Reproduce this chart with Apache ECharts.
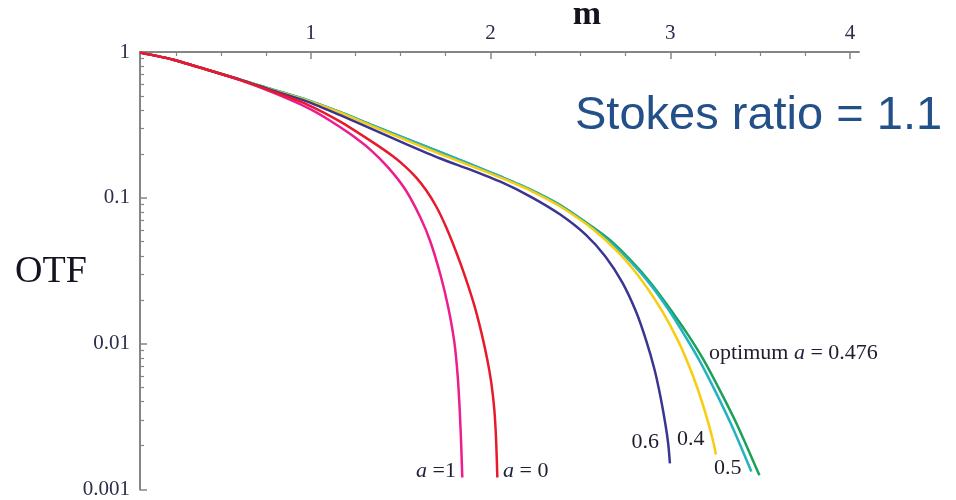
<!DOCTYPE html>
<html>
<head>
<meta charset="utf-8">
<script src="https://cdn.jsdelivr.net/npm/echarts@6/dist/echarts.min.js"></script>
<style>
  html, body { margin: 0; padding: 0; background: #fff; }
  #chart { width: 956px; height: 500px; }
</style>
</head>
<body>
<div id="chart"></div>
<script>
// spatial frequency m and OTF for each apodization a
const mA1 = [0.051, 0.235, 0.424, 0.608, 0.791, 0.981, 1.108, 1.220, 1.331, 1.431, 1.526, 1.610, 1.665, 1.721, 1.765, 1.799, 1.818, 1.829, 1.837, 1.843];
const otfA1 = [0.99, 0.886, 0.756, 0.641, 0.526, 0.415, 0.338, 0.2735, 0.214, 0.161, 0.114, 0.0733, 0.0502, 0.0298, 0.0177, 0.0102, 0.00588, 0.00344, 0.00201, 0.00121];

const mA0 = [0.051, 0.235, 0.424, 0.608, 0.791, 0.981, 1.164, 1.348, 1.459, 1.526, 1.587, 1.643, 1.698, 1.754, 1.810, 1.860, 1.910, 1.949, 1.982, 2.004, 2.021, 2.031, 2.038];
const otfA0 = [0.99, 0.886, 0.756, 0.641, 0.535, 0.436, 0.333, 0.239, 0.192, 0.1638, 0.1377, 0.1122, 0.0872, 0.0626, 0.0422, 0.0285, 0.0183, 0.01195, 0.0078, 0.00543, 0.00355, 0.00221, 0.00121];

const mA06 = [0.051, 0.235, 0.424, 0.608, 0.791, 0.981, 1.164, 1.348, 1.537, 1.721, 1.888, 2.055, 2.222, 2.388, 2.528, 2.639, 2.733, 2.811, 2.867, 2.912, 2.945, 2.973, 2.989, 2.998];
const otfA06 = [0.99, 0.886, 0.756, 0.646, 0.543, 0.457, 0.369, 0.294, 0.232, 0.186, 0.156, 0.129, 0.102, 0.0768, 0.0561, 0.0396, 0.0263, 0.0164, 0.0104, 0.00667, 0.00436, 0.0028, 0.00204, 0.00151];

const mA04 = [0.051, 0.235, 0.424, 0.608, 0.791, 0.981, 1.164, 1.348, 1.537, 1.721, 1.888, 2.055, 2.222, 2.388, 2.572, 2.722, 2.850, 2.956, 3.045, 3.112, 3.168, 3.212, 3.240, 3.254];
const otfA04 = [0.99, 0.886, 0.756, 0.646, 0.547, 0.464, 0.384, 0.308, 0.247, 0.1995, 0.1665, 0.1377, 0.1122, 0.0872, 0.0607, 0.0409, 0.0263, 0.01665, 0.01037, 0.00667, 0.00429, 0.00285, 0.00211, 0.00174];

const mA05 = [0.051, 0.235, 0.424, 0.608, 0.791, 0.981, 1.164, 1.348, 1.537, 1.721, 1.888, 2.055, 2.222, 2.388, 2.572, 2.667, 2.778, 2.889, 2.989, 3.084, 3.168, 3.262, 3.351, 3.451];
const otfA05 = [0.99, 0.886, 0.756, 0.646, 0.552, 0.468, 0.387, 0.313, 0.253, 0.206, 0.170, 0.140, 0.114, 0.0886, 0.0616, 0.0494, 0.0366, 0.0255, 0.0172, 0.0112, 0.00745, 0.00442, 0.00259, 0.00133];

const mOpt = [0.051, 0.235, 0.424, 0.608, 0.791, 0.981, 1.164, 1.348, 1.537, 1.721, 1.888, 2.055, 2.222, 2.388, 2.572, 2.667, 2.778, 2.889, 2.989, 3.090, 3.184, 3.279, 3.373, 3.496];
const otfOpt = [0.99, 0.886, 0.756, 0.646, 0.552, 0.468, 0.387, 0.313, 0.253, 0.206, 0.170, 0.140, 0.114, 0.0893, 0.0626, 0.051, 0.0375, 0.0263, 0.018, 0.01195, 0.0078, 0.00471, 0.00276, 0.00125];

const xMajorTicks = [1, 2, 3, 4];
const xMinorTicks = [0.25, 0.5, 0.75, 1.25, 1.5, 1.75, 2.25, 2.5, 2.75, 3.25, 3.5, 3.75];
const yMinorTicks = [0.002, 0.003, 0.004, 0.005, 0.006, 0.007, 0.008, 0.009,
                     0.02, 0.03, 0.04, 0.05, 0.06, 0.07, 0.08, 0.09,
                     0.2, 0.3, 0.4, 0.5, 0.6, 0.7, 0.8, 0.9];

const serif = '"Liberation Serif", "DejaVu Serif", serif';
const axisColor = '#858585';
const tickText = '#2c2c4c';

const zip = (xs, ys) => xs.map((x, i) => [x, ys[i]]);

function curve(name, color, xs, ys, z) {
    return {
        name: name,
        type: 'line',
        data: zip(xs, ys),
        showSymbol: false,
        smooth: 0.25,
        silent: true,
        z: z,
        lineStyle: { color: color, width: 2.5 },
        itemStyle: { color: color }
    };
}

function label(x, y, text, align) {
    return {
        type: 'text', x: x, y: y,
        style: {
            text: text, fill: '#1e1e2e', align: align || 'left', verticalAlign: 'middle',
            fontFamily: serif, fontSize: 22,
            rich: { i: { fontFamily: serif, fontSize: 22, fontStyle: 'italic', fill: '#1e1e3e' } }
        }
    };
}

const chart = echarts.init(document.getElementById('chart'));

chart.setOption({
    animation: false,
    grid: { left: 140, top: 52, right: 97, bottom: 9 },
    xAxis: [{
        type: 'value', position: 'top', min: 0.05, max: 4.05,
        axisLine: { show: true, onZero: false, lineStyle: { color: axisColor, width: 2 } },
        axisTick: { show: true, inside: true, length: 7, customValues: xMajorTicks, lineStyle: { color: axisColor, width: 1.5 } },
        axisLabel: { customValues: xMajorTicks, margin: 8, fontFamily: serif, fontSize: 21, color: tickText },
        splitLine: { show: false }
    }, {
        type: 'value', position: 'top', min: 0.05, max: 4.05,
        axisLine: { show: false },
        axisTick: { show: true, inside: true, length: 4, customValues: xMinorTicks, lineStyle: { color: axisColor, width: 1.2 } },
        axisLabel: { show: false },
        splitLine: { show: false }
    }],
    yAxis: [{
        type: 'log', logBase: 10, min: 0.001, max: 1, position: 'left',
        axisLine: { show: true, onZero: false, lineStyle: { color: axisColor, width: 2 } },
        axisTick: { show: true, inside: true, length: 7, lineStyle: { color: axisColor, width: 1.5 } },
        axisLabel: { margin: 10, fontFamily: serif, fontSize: 21, color: tickText },
        splitLine: { show: false }
    }, {
        type: 'log', logBase: 10, min: 0.001, max: 1, position: 'left',
        axisLine: { show: false },
        axisTick: { show: true, inside: true, length: 4, customValues: yMinorTicks, lineStyle: { color: axisColor, width: 1.2 } },
        axisLabel: { show: false },
        splitLine: { show: false }
    }],
    series: [
        curve('optimum a = 0.476', '#1aa158', mOpt, otfOpt, 2),
        curve('a = 0.5', '#22b2c2', mA05, otfA05, 3),
        curve('a = 0.4', '#f8cc10', mA04, otfA04, 4),
        curve('a = 0.6', '#3b3592', mA06, otfA06, 5),
        curve('a = 1', '#ee1c8c', mA1, otfA1, 6),
        curve('a = 0', '#e8192c', mA0, otfA0, 7)
    ],
    graphic: [
        { type: 'text', x: 15, y: 272, style: { text: 'OTF', fontFamily: serif, fontSize: 38, fill: '#141420', align: 'left', verticalAlign: 'middle' } },
        { type: 'text', x: 587, y: 15, style: { text: 'm', fontFamily: serif, fontSize: 34, fontWeight: 'bold', fill: '#141420', align: 'center', verticalAlign: 'middle' } },
        { type: 'text', x: 575, y: 116, style: { text: 'Stokes ratio = 1.1', fontFamily: '"Liberation Sans", Arial, sans-serif', fontSize: 47, fill: '#24508a', align: 'left', verticalAlign: 'middle' } },
        label(456, 471, '{i|a} =1', 'right'),
        label(503, 471, '{i|a} = 0', 'left'),
        label(659, 442, '0.6', 'right'),
        label(677, 439, '0.4', 'left'),
        label(714, 468, '0.5', 'left'),
        label(709, 353, 'optimum {i|a} = 0.476', 'left')
    ]
});
</script>
</body>
</html>
